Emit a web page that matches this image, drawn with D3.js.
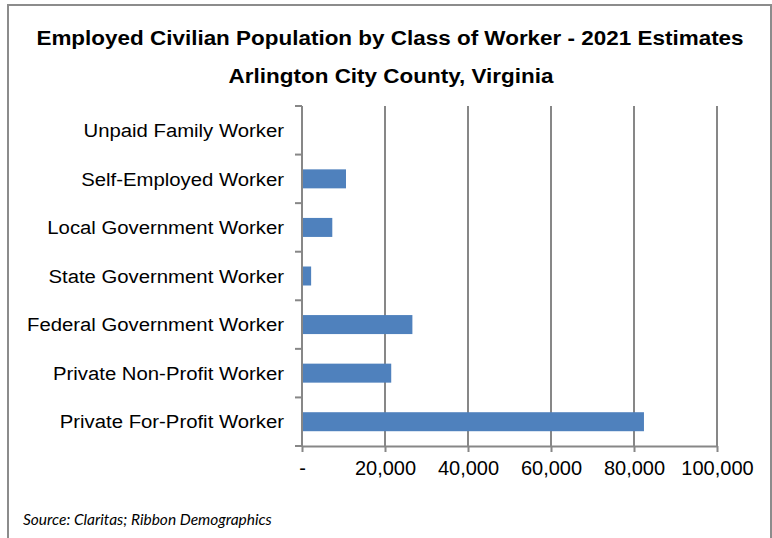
<!DOCTYPE html>
<html>
<head>
<meta charset="utf-8">
<script src="https://cdn.jsdelivr.net/npm/d3@7"></script>
<style>
  html, body { margin: 0; padding: 0; background: #fff; }
  svg { display: block; }
</style>
</head>
<body>
<svg id="chart" width="772" height="538"></svg>
<script>
// Class of worker categories, top to bottom
const categories = [
  "Unpaid Family Worker",
  "Self-Employed Worker",
  "Local Government Worker",
  "State Government Worker",
  "Federal Government Worker",
  "Private Non-Profit Worker",
  "Private For-Profit Worker"
];
// Employed civilians, 2021 estimates
const workers = [150, 10600, 7300, 2200, 26600, 21500, 82400];
// Value axis ticks
const xTicks = [0, 20000, 40000, 60000, 80000, 100000];

const titleLine1 = "Employed Civilian Population by Class of Worker - 2021 Estimates";
const titleLine2 = "Arlington City County, Virginia";
const sourceNote = "Source: Claritas; Ribbon Demographics";

const svg = d3.select("#chart");
const W = 772, H = 538;
const margin = { left: 302, right: 55, top: 106, bottom: 92 };
const innerW = W - margin.left - margin.right;
const innerH = H - margin.top - margin.bottom;

const gridColor = "#878787";
const barColor = "#4f81bd";
const fontMain = "'Liberation Sans', Arial, sans-serif";
const stretch = 1.07; // slightly wide lettering

// outer frame
svg.append("rect")
  .attr("x", 8).attr("y", 5)
  .attr("width", 763).attr("height", 540)
  .attr("fill", "#fff")
  .attr("stroke", "#8c8c8c")
  .attr("stroke-width", 2);

// titles
[[titleLine1, 390, 45], [titleLine2, 391, 83]].forEach(([t, cx, by]) => {
  svg.append("text")
    .attr("transform", `translate(${cx},${by}) scale(${stretch},1)`)
    .attr("text-anchor", "middle")
    .attr("font-family", fontMain)
    .attr("font-weight", "bold")
    .attr("font-size", 21)
    .attr("fill", "#000")
    .text(t);
});

const x = d3.scaleLinear().domain([0, 100000]).range([0, innerW]);
const yBand = d3.scaleBand().domain(categories).range([0, innerH]);

const g = svg.append("g").attr("transform", `translate(${margin.left},${margin.top})`);

// vertical gridlines
g.append("g")
  .selectAll("line")
  .data(xTicks.filter(d => d > 0))
  .join("line")
  .attr("x1", d => x(d)).attr("x2", d => x(d))
  .attr("y1", 0).attr("y2", innerH)
  .attr("stroke", gridColor)
  .attr("stroke-width", 2);

// bars
g.append("g")
  .selectAll("rect")
  .data(categories.map((c, i) => ({ c, v: workers[i] })))
  .join("rect")
  .attr("x", x(0))
  .attr("y", d => yBand(d.c) + (yBand.bandwidth() - 19) / 2)
  .attr("width", d => x(d.v) - x(0))
  .attr("height", 19)
  .attr("fill", barColor);

// x axis
const fmt = d => d === 0 ? "-" : d3.format(",")(d);
const xAxis = g.append("g")
  .attr("transform", `translate(0,${innerH})`)
  .call(d3.axisBottom(x).tickValues(xTicks).tickFormat(fmt).tickSize(6).tickPadding(9).tickSizeOuter(0));
xAxis.select(".domain").attr("stroke", gridColor).attr("stroke-width", 2);
xAxis.selectAll(".tick line").attr("stroke", gridColor).attr("stroke-width", 2);
xAxis.selectAll(".tick text")
  .attr("font-family", fontMain)
  .attr("font-size", 20)
  .attr("fill", "#000");

// y axis: ticks sit at the band boundaries
const yAxisG = g.append("g");
yAxisG.append("line")
  .attr("x1", 0).attr("x2", 0)
  .attr("y1", 0).attr("y2", innerH)
  .attr("stroke", gridColor).attr("stroke-width", 2);
const bounds = categories.map(c => yBand(c)).concat([innerH]);
yAxisG.selectAll("line.tk")
  .data(bounds)
  .join("line")
  .attr("class", "tk")
  .attr("x1", -7).attr("x2", 0)
  .attr("y1", d => d).attr("y2", d => d)
  .attr("stroke", gridColor).attr("stroke-width", 2);
yAxisG.selectAll("text")
  .data(categories)
  .join("text")
  .attr("transform", d => `translate(-18,${yBand(d) + yBand.bandwidth() / 2}) scale(${stretch},1)`)
  .attr("dy", "0.35em")
  .attr("text-anchor", "end")
  .attr("font-family", fontMain)
  .attr("font-size", 19)
  .attr("fill", "#000")
  .text(d => d);

// source note
svg.append("text")
  .attr("x", 23).attr("y", 525)
  .attr("font-family", "Lato, 'Open Sans', sans-serif")
  .attr("font-style", "italic")
  .attr("font-size", 15.5)
  .attr("fill", "#000")
  .text(sourceNote);
</script>
</body>
</html>
